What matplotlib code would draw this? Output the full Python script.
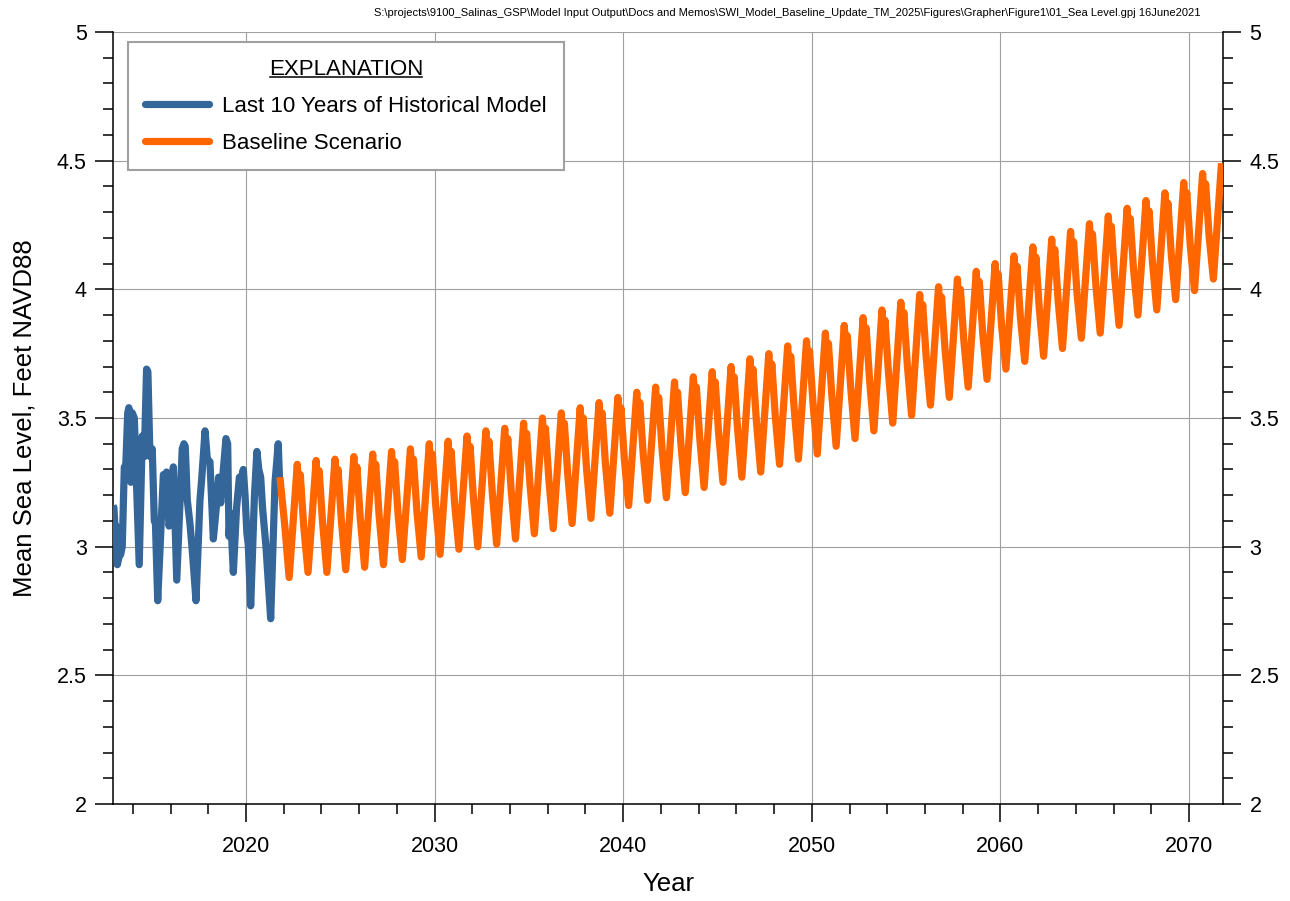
import matplotlib.pyplot as plt
from matplotlib.ticker import MultipleLocator, FuncFormatter
from matplotlib.lines import Line2D
from matplotlib.transforms import IdentityTransform

NARROW = ['Liberation Sans Narrow', 'Liberation Sans', 'DejaVu Sans']
REGULAR = ['Liberation Sans', 'DejaVu Sans']
plt.rcParams['font.family'] = NARROW

PATH_NOTE = (r"S:\projects\9100_Salinas_GSP\Model Input Output\Docs and Memos"
             r"\SWI_Model_Baseline_Update_TM_2025\Figures\Grapher\Figure1"
             r"\01_Sea Level.gpj 16June2021")

# historical model (decimal year, ft NAVD88), vertices
hist_year = [2012.95, 2013.00, 2013.05, 2013.12, 2013.18, 2013.27, 2013.36, 2013.44, 2013.55, 2013.62,
             2013.73, 2013.79, 2013.85, 2013.90, 2013.97, 2014.08, 2014.34, 2014.50, 2014.61, 2014.73,
             2014.80, 2014.91, 2015.03, 2015.14, 2015.20, 2015.32, 2015.62, 2015.70, 2015.79, 2015.92,
             2016.02, 2016.15, 2016.33, 2016.62, 2016.71, 2016.78, 2016.89, 2017.03, 2017.17, 2017.35,
             2017.56, 2017.65, 2017.83, 2017.95, 2018.09, 2018.27, 2018.45, 2018.55, 2018.66, 2018.80,
             2018.94, 2019.03, 2019.10, 2019.18, 2019.33, 2019.50, 2019.65, 2019.73, 2019.86, 2019.95,
             2020.05, 2020.12, 2020.25, 2020.45, 2020.58, 2020.68, 2020.78, 2020.88, 2021.06, 2021.31,
             2021.54, 2021.71, 2021.80]
hist_level = [3.16, 3.15, 3.08, 3.08, 2.93, 2.96, 2.97, 3.00, 3.31, 3.30,
              3.52, 3.54, 3.52, 3.25, 3.52, 3.50, 2.93, 3.43, 3.35, 3.69,
              3.68, 3.35, 3.38, 3.10, 3.09, 2.79, 3.28, 3.27, 3.29, 3.08,
              3.12, 3.31, 2.87, 3.38, 3.40, 3.39, 3.18, 3.09, 2.97, 2.79,
              3.18, 3.26, 3.45, 3.34, 3.33, 3.03, 3.17, 3.27, 3.17, 3.30,
              3.42, 3.40, 3.04, 3.13, 2.90, 3.15, 3.27, 3.26, 3.30, 3.20,
              3.05, 3.01, 2.77, 3.20, 3.37, 3.30, 3.27, 3.15, 3.00, 2.72,
              3.25, 3.40, 3.22]

# baseline scenario: tail of 2021, then one seasonal cycle per year
base_start_year = [2021.80, 2022.06]
base_start_level = [3.27, 3.08]
base_years = list(range(2022, 2072))
# spring low (~Apr)
base_low = [2.88, 2.90, 2.90, 2.91, 2.92, 2.93, 2.95, 2.96, 2.97, 2.99,
            3.00, 3.01, 3.03, 3.05, 3.07, 3.09, 3.11, 3.13, 3.16, 3.18,
            3.19, 3.21, 3.23, 3.25, 3.27, 3.29, 3.32, 3.34, 3.36, 3.39,
            3.42, 3.45, 3.48, 3.51, 3.55, 3.58, 3.62, 3.65, 3.69, 3.72,
            3.74, 3.77, 3.81, 3.83, 3.86, 3.90, 3.92, 3.96, 3.995, 4.04]
# main peak (~Sep)
base_peak = [3.32, 3.335, 3.34, 3.35, 3.36, 3.37, 3.38, 3.40, 3.41, 3.43,
             3.45, 3.46, 3.48, 3.50, 3.52, 3.54, 3.56, 3.58, 3.60, 3.62,
             3.64, 3.66, 3.68, 3.70, 3.73, 3.75, 3.78, 3.80, 3.83, 3.86,
             3.89, 3.92, 3.95, 3.98, 4.01, 4.04, 4.07, 4.10, 4.13, 4.165,
             4.195, 4.225, 4.255, 4.285, 4.315, 4.345, 4.375, 4.415, 4.45, 4.49]
# notch after the peak (~Oct)
base_dip = [3.20, 3.215, 3.22, 3.23, 3.24, 3.25, 3.26, 3.28, 3.29, 3.31,
            3.33, 3.34, 3.36, 3.38, 3.40, 3.42, 3.44, 3.46, 3.48, 3.50,
            3.52, 3.54, 3.56, 3.58, 3.61, 3.63, 3.66, 3.68, 3.71, 3.74,
            3.77, 3.80, 3.83, 3.86, 3.89, 3.92, 3.95, 3.98, 4.01, 4.045,
            4.075, 4.105, 4.135, 4.165, 4.195, 4.225, 4.255, 4.295, 4.33]
# second peak (~Nov)
base_second = [3.28, 3.295, 3.30, 3.31, 3.32, 3.33, 3.34, 3.36, 3.37, 3.39,
               3.41, 3.42, 3.44, 3.46, 3.48, 3.50, 3.52, 3.54, 3.56, 3.58,
               3.60, 3.62, 3.64, 3.66, 3.69, 3.71, 3.74, 3.76, 3.79, 3.82,
               3.85, 3.88, 3.91, 3.94, 3.97, 4.00, 4.03, 4.06, 4.09, 4.125,
               4.155, 4.185, 4.215, 4.245, 4.275, 4.305, 4.335, 4.375, 4.41]
# winter shoulder (~Jan of next year)
base_shoulder = [3.08, 3.095, 3.10, 3.11, 3.12, 3.13, 3.14, 3.16, 3.17, 3.19,
                 3.21, 3.22, 3.24, 3.26, 3.28, 3.30, 3.32, 3.34, 3.36, 3.38,
                 3.40, 3.42, 3.44, 3.46, 3.49, 3.51, 3.54, 3.56, 3.59, 3.62,
                 3.65, 3.68, 3.71, 3.74, 3.77, 3.80, 3.83, 3.86, 3.89, 3.925,
                 3.955, 3.985, 4.015, 4.045, 4.075, 4.105, 4.135, 4.175, 4.21]
# where in the year each feature sits
feature_offset = {'low': 0.29, 'peak': 0.72, 'dip': 0.80, 'second': 0.88, 'shoulder': 1.06}


def baseline_series():
    t = list(base_start_year)
    v = list(base_start_level)
    for i, yr in enumerate(base_years):
        t += [yr + feature_offset['low'], yr + feature_offset['peak']]
        v += [base_low[i], base_peak[i]]
        if i < len(base_dip):
            t += [yr + feature_offset['dip'], yr + feature_offset['second'], yr + feature_offset['shoulder']]
            v += [base_dip[i], base_second[i], base_shoulder[i]]
    return t, v


W, H = 1290, 901
fig = plt.figure(figsize=(W / 100, H / 100), dpi=100)
ax = fig.add_axes([113 / W, 1 - 804 / H, 1110 / W, 772 / H])

ax.plot(hist_year, hist_level, color='#346699', lw=5.2,
        solid_joinstyle='round', solid_capstyle='butt',
        label='Last 10 Years of Historical Model', zorder=3)
bt, bv = baseline_series()
ax.plot(bt, bv, color='#ff6600', lw=5.2,
        solid_joinstyle='round', solid_capstyle='butt',
        label='Baseline Scenario', zorder=4)

ax.set_xlim(2012.95, 2071.8)
ax.set_ylim(2, 5)

ax.xaxis.set_major_locator(MultipleLocator(10))
ax.xaxis.set_minor_locator(MultipleLocator(2))
ax.yaxis.set_major_locator(MultipleLocator(0.5))
ax.yaxis.set_minor_locator(MultipleLocator(0.1))
ax.yaxis.set_major_formatter(FuncFormatter(lambda y, _: f'{y:g}'))

ax.tick_params(which='both', direction='out', width=1.1, colors='black')
ax.tick_params(which='major', length=13, labelsize=15.5)
ax.tick_params(which='minor', length=7.5)
ax.tick_params(axis='y', which='both', left=True, right=True, labelleft=True, labelright=True, pad=6)
ax.tick_params(axis='x', which='major', pad=10)

ax.grid(True, which='major', color='#a0a0a0', lw=0.8)
ax.set_axisbelow(True)

ax.spines['top'].set_visible(False)
for side in ('left', 'right', 'bottom'):
    ax.spines[side].set_linewidth(1.1)

ax.set_ylabel('Mean Sea Level, Feet NAVD88', fontsize=18.5)
ax.yaxis.set_label_coords(-0.069, 0.5)
ax.set_xlabel('Year', fontsize=18.5)
ax.xaxis.set_label_coords(0.5, -0.088)

leg = ax.legend(loc='upper left', bbox_to_anchor=(0.0135, 0.987), borderaxespad=0,
                title='EXPLANATION',
                prop={'family': REGULAR, 'size': 16},
                title_fontproperties={'family': REGULAR, 'size': 16},
                frameon=True, fancybox=False, edgecolor='#a0a0a0', framealpha=1,
                handlelength=2.9, handletextpad=0.6, labelspacing=0.72, borderpad=0.75)
leg.get_frame().set_linewidth(1.5)
for line in leg.get_lines():
    line.set_solid_capstyle('round')

fig.text(1200 / W, 1 - 13 / H, PATH_NOTE, ha='right', va='center', fontsize=8)

# underline the legend title
fig.canvas.draw()
bb = leg.get_title().get_window_extent(fig.canvas.get_renderer())
fig.add_artist(Line2D([bb.x0 + 1, bb.x1 - 1], [bb.y0 + 3, bb.y0 + 3],
                      transform=IdentityTransform(), color='black', lw=1.1))

fig.savefig('out.png', dpi=100)
